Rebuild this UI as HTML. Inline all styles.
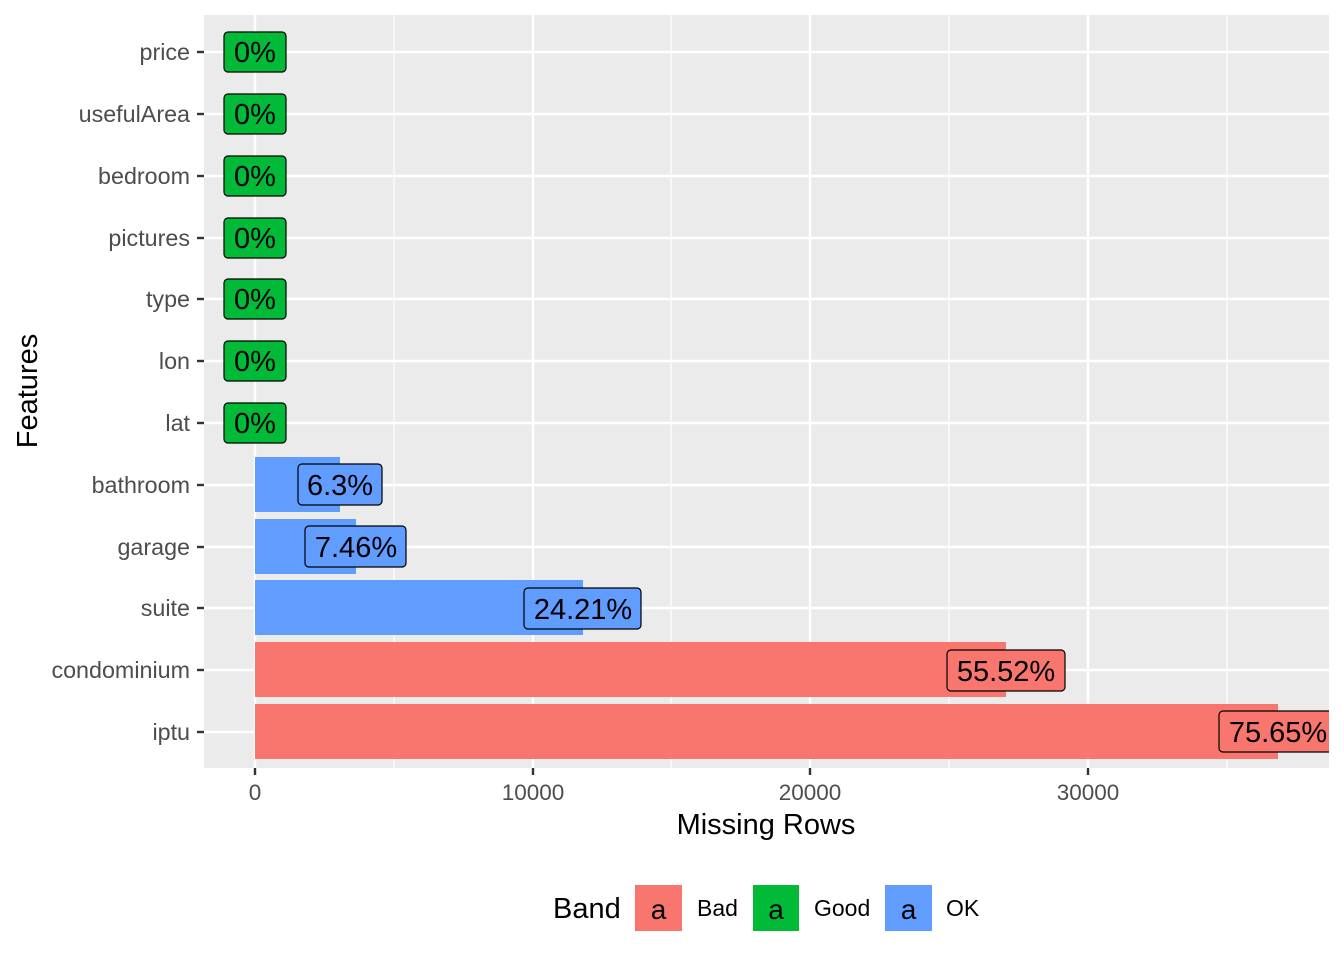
<!DOCTYPE html>
<html><head><meta charset="utf-8"><style>body{margin:0;background:#fff}svg{display:block}text{font-family:"Liberation Sans",sans-serif}</style></head><body>
<svg width="1344" height="960" viewBox="0 0 1344 960" xmlns="http://www.w3.org/2000/svg">
<defs><clipPath id="c"><rect x="204" y="15" width="1125" height="753"/></clipPath></defs>
<rect x="204" y="15" width="1125" height="753" fill="#ebebeb"/>
<g stroke="#fff" stroke-width="1.2">
<line x1="394" y1="15" x2="394" y2="768"/><line x1="671" y1="15" x2="671" y2="768"/><line x1="949" y1="15" x2="949" y2="768"/><line x1="1227" y1="15" x2="1227" y2="768"/>
</g>
<g stroke="#fff" stroke-width="2.4">
<line x1="255" y1="15" x2="255" y2="768"/><line x1="533" y1="15" x2="533" y2="768"/><line x1="810" y1="15" x2="810" y2="768"/><line x1="1088" y1="15" x2="1088" y2="768"/>
<line x1="204" y1="52" x2="1329" y2="52"/><line x1="204" y1="114" x2="1329" y2="114"/><line x1="204" y1="176" x2="1329" y2="176"/><line x1="204" y1="238" x2="1329" y2="238"/><line x1="204" y1="299" x2="1329" y2="299"/><line x1="204" y1="361" x2="1329" y2="361"/><line x1="204" y1="423" x2="1329" y2="423"/><line x1="204" y1="485" x2="1329" y2="485"/><line x1="204" y1="547" x2="1329" y2="547"/><line x1="204" y1="608" x2="1329" y2="608"/><line x1="204" y1="670" x2="1329" y2="670"/><line x1="204" y1="732" x2="1329" y2="732"/>
</g>
<g clip-path="url(#c)">
<rect x="255" y="457" width="85" height="55" fill="#619cff"/>
<rect x="255" y="519" width="101" height="55" fill="#619cff"/>
<rect x="255" y="580" width="328" height="55" fill="#619cff"/>
<rect x="255" y="642" width="751" height="55" fill="#f8766d"/>
<rect x="255" y="704" width="1023" height="55" fill="#f8766d"/>
<g stroke="#000" stroke-width="1.2" font-size="29" text-anchor="middle">
<rect x="224" y="32" width="62" height="40" rx="4" fill="#00ba38"/><text x="255" y="62" stroke="none">0%</text>
<rect x="224" y="94" width="62" height="40" rx="4" fill="#00ba38"/><text x="255" y="124" stroke="none">0%</text>
<rect x="224" y="156" width="62" height="40" rx="4" fill="#00ba38"/><text x="255" y="186" stroke="none">0%</text>
<rect x="224" y="218" width="62" height="40" rx="4" fill="#00ba38"/><text x="255" y="248" stroke="none">0%</text>
<rect x="224" y="279" width="62" height="40" rx="4" fill="#00ba38"/><text x="255" y="309" stroke="none">0%</text>
<rect x="224" y="341" width="62" height="40" rx="4" fill="#00ba38"/><text x="255" y="371" stroke="none">0%</text>
<rect x="224" y="403" width="62" height="40" rx="4" fill="#00ba38"/><text x="255" y="433" stroke="none">0%</text>
<rect x="298" y="464" width="84" height="41" rx="4" fill="#619cff"/><text x="340" y="495" stroke="none">6.3%</text>
<rect x="305" y="526" width="101" height="41" rx="4" fill="#619cff"/><text x="356" y="557" stroke="none">7.46%</text>
<rect x="524" y="588" width="117" height="41" rx="4" fill="#619cff"/><text x="583" y="619" stroke="none">24.21%</text>
<rect x="947" y="650" width="118" height="41" rx="4" fill="#f8766d"/><text x="1006" y="681" stroke="none">55.52%</text>
<rect x="1219" y="711" width="118" height="41" rx="4" fill="#f8766d"/><text x="1278" y="742" stroke="none">75.65%</text>
</g>
</g>
<g stroke="#333" stroke-width="2.4">
<line x1="197" y1="52" x2="204" y2="52"/><line x1="197" y1="114" x2="204" y2="114"/><line x1="197" y1="176" x2="204" y2="176"/><line x1="197" y1="238" x2="204" y2="238"/><line x1="197" y1="299" x2="204" y2="299"/><line x1="197" y1="361" x2="204" y2="361"/><line x1="197" y1="423" x2="204" y2="423"/><line x1="197" y1="485" x2="204" y2="485"/><line x1="197" y1="547" x2="204" y2="547"/><line x1="197" y1="608" x2="204" y2="608"/><line x1="197" y1="670" x2="204" y2="670"/><line x1="197" y1="732" x2="204" y2="732"/>
<line x1="255" y1="768" x2="255" y2="775"/><line x1="533" y1="768" x2="533" y2="775"/><line x1="810" y1="768" x2="810" y2="775"/><line x1="1088" y1="768" x2="1088" y2="775"/>
</g>
<g fill="#4d4d4d" font-size="23.3" text-anchor="end">
<text x="190" y="60">price</text><text x="190" y="122">usefulArea</text><text x="190" y="184">bedroom</text><text x="190" y="246">pictures</text><text x="190" y="307">type</text><text x="190" y="369">lon</text><text x="190" y="431">lat</text><text x="190" y="493">bathroom</text><text x="190" y="555">garage</text><text x="190" y="616">suite</text><text x="190" y="678">condominium</text><text x="190" y="740">iptu</text>
</g>
<g fill="#4d4d4d" font-size="22.5" text-anchor="middle">
<text x="255" y="800">0</text><text x="533" y="800">10000</text><text x="810" y="800">20000</text><text x="1088" y="800">30000</text>
</g>
<text x="766" y="834" font-size="29" text-anchor="middle">Missing Rows</text>
<text transform="translate(37,391) rotate(-90)" font-size="29" text-anchor="middle">Features</text>
<text x="553" y="918" font-size="29">Band</text>
<rect x="635" y="885" width="47" height="46" fill="#f8766d"/><text x="658.5" y="919" font-size="28" text-anchor="middle">a</text>
<text x="697" y="916" font-size="23">Bad</text>
<rect x="753" y="885" width="46" height="46" fill="#00ba38"/><text x="776" y="919" font-size="28" text-anchor="middle">a</text>
<text x="814" y="916" font-size="23">Good</text>
<rect x="885" y="885" width="47" height="46" fill="#619cff"/><text x="908.5" y="919" font-size="28" text-anchor="middle">a</text>
<text x="946" y="916" font-size="23">OK</text>
</svg>
</body></html>
